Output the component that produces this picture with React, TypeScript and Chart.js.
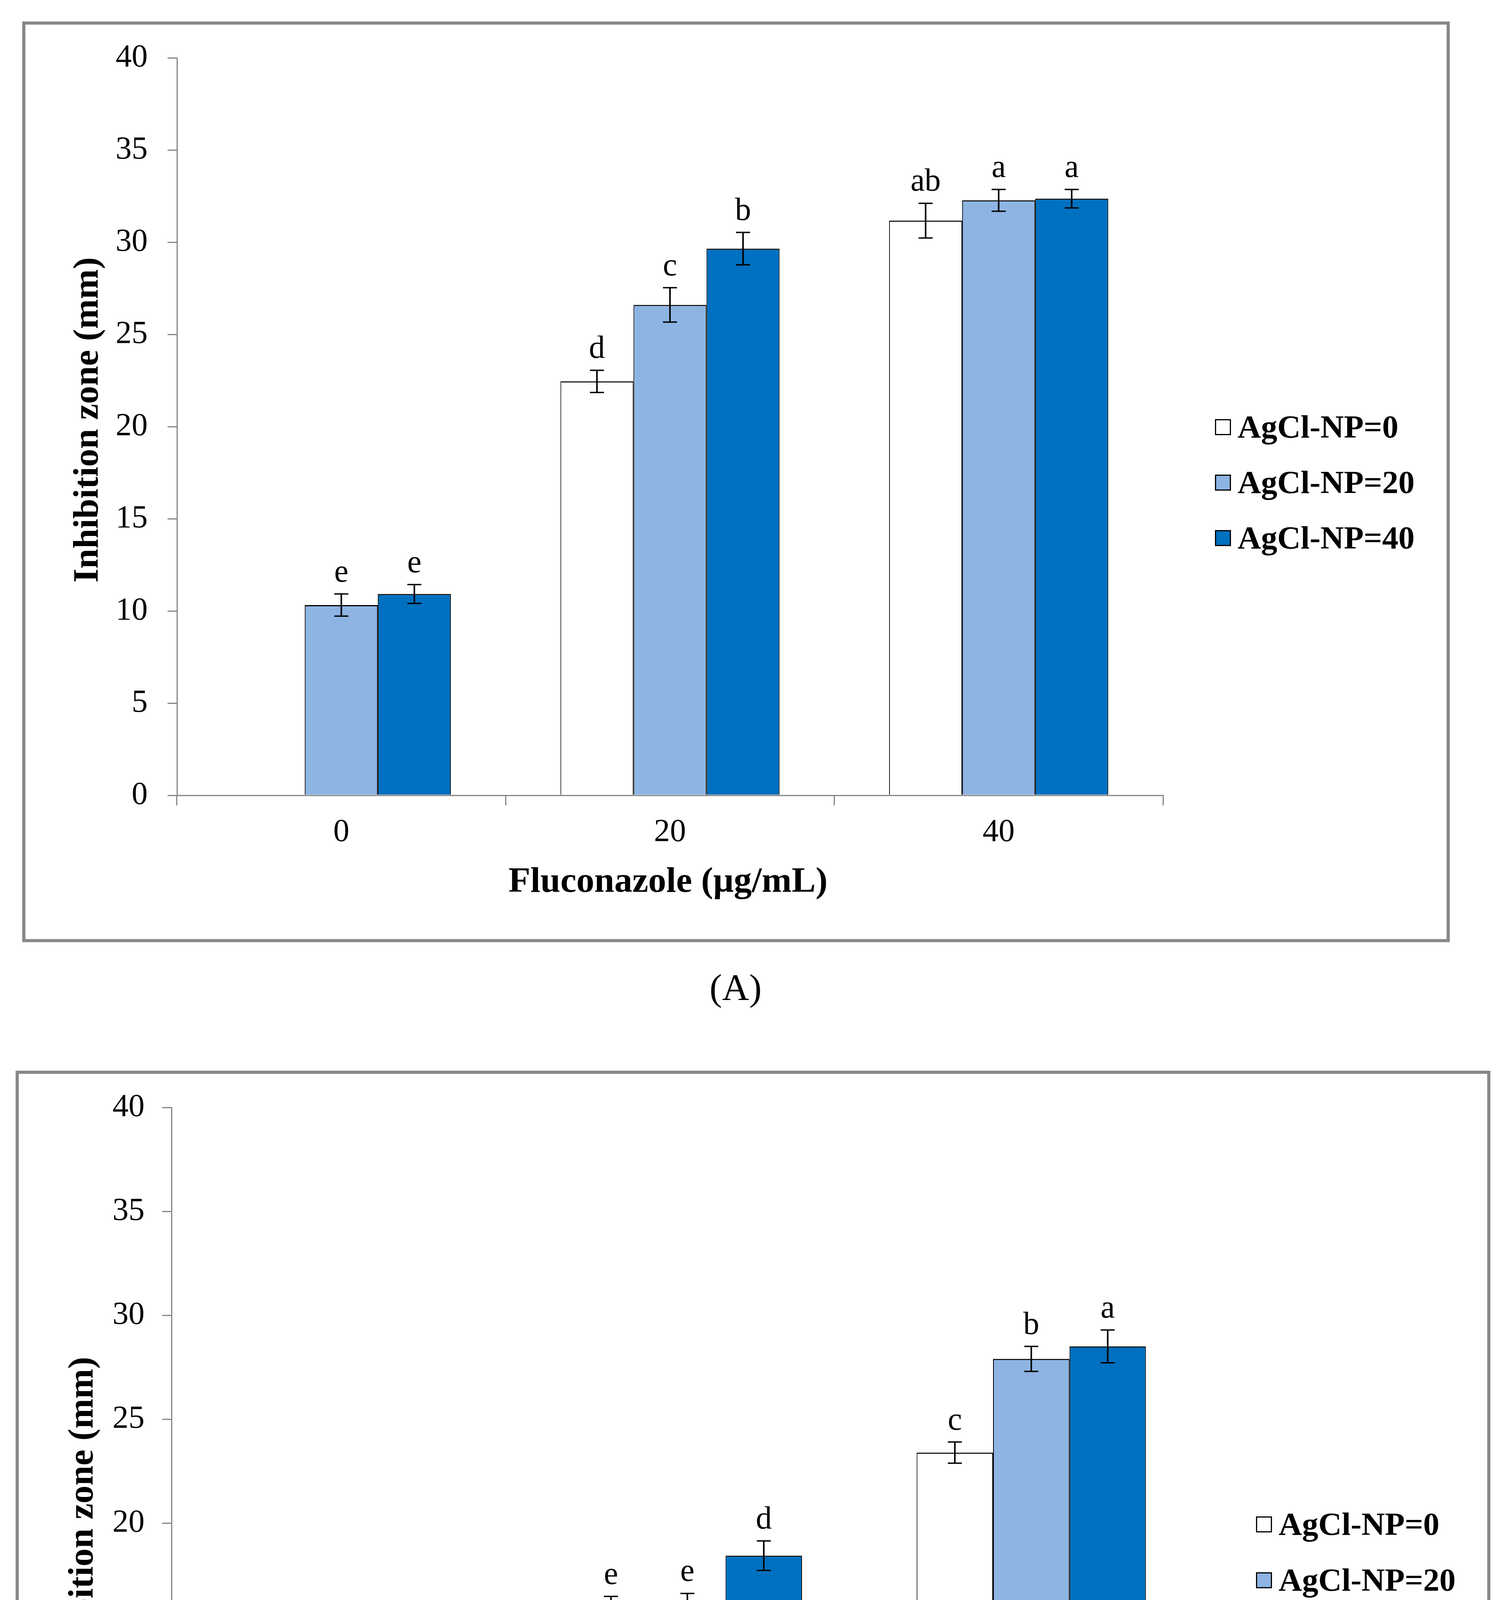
import React, { useEffect, useRef } from "react";
import { Chart, registerables } from "chart.js";

Chart.register(...registerables);

// ---------- data ----------
const categories = ["0", "20", "40"];
const seriesNames = ["AgCl-NP=0", "AgCl-NP=20", "AgCl-NP=40"];
const yMin = 0;
const yMax = 40;
const yStep = 5;

// Panel A
const aNP0 = [null, 22.45, 31.17];
const aNP20 = [10.32, 26.6, 32.27];
const aNP40 = [10.92, 29.65, 32.36];
const aErr0 = [null, 0.6, 0.94];
const aErr20 = [0.6, 0.93, 0.59];
const aErr40 = [0.51, 0.88, 0.5];
const aLet0 = ["", "d", "ab"];
const aLet20 = ["e", "c", "a"];
const aLet40 = ["e", "b", "a"];

// Panel B
const bNP0 = [null, 15.57, 23.39];
const bNP20 = [7.82, 16.09, 27.9];
const bNP40 = [9.3, 18.43, 28.5];
const bErr0 = [null, 0.9, 0.51];
const bErr20 = [0.32, 0.52, 0.6];
const bErr40 = [0.41, 0.71, 0.79];
const bLet0 = ["", "e", "c"];
const bLet20 = ["g", "e", "b"];
const bLet40 = ["f", "d", "a"];

const yTitle = "Inhibition zone (mm)";
const xTitle = "Fluconazole (µg/mL)";

// ---------- styles ----------
const barColors = ["#FFFFFF", "#8EB4E3", "#0070C0"];
const axisGray = "#868686";
const frameGray = "#888888";
const SERIF = '"Liberation Serif", "Times New Roman", serif';

type PanelLayout = {
  canvasTop: number;
  canvasHeight: number;
  area: { left: number; right: number; top: number; bottom: number };
  yLabelPad: number;
  xLabelPad: number;
  frame: [number, number, number, number];
  legendSquareX: number;
  legendTextX: number;
  legendBaselines: number[];
  yTitlePos: [number, number];
  xTitlePos: [number, number];
  caption: string;
  captionPos: [number, number];
};

const layoutA: PanelLayout = {
  canvasTop: 0,
  canvasHeight: 2700,
  area: { left: 453, right: 2977, top: 148, bottom: 2036 },
  yLabelPad: 51,
  xLabelPad: 20,
  frame: [61, 59, 3707, 2408],
  legendSquareX: 3110,
  legendTextX: 3168,
  legendBaselines: [1120, 1262, 1404],
  yTitlePos: [250, 1075],
  xTitlePos: [1710, 2283],
  caption: "(A)",
  captionPos: [1883, 2560],
};

const layoutB: PanelLayout = {
  canvasTop: 2700,
  canvasHeight: 2835,
  area: { left: 439, right: 3080, top: 135, bottom: 2263 },
  yLabelPad: 45,
  xLabelPad: 25,
  frame: [44, 45, 3811, 2638],
  legendSquareX: 3215,
  legendTextX: 3273,
  legendBaselines: [1229, 1372, 1514],
  yTitlePos: [237, 1190],
  xTitlePos: [1763, 2516],
  caption: "(B)",
  captionPos: [1883, 2779],
};

const PAGE_W = 3855;

const decorPlugin = {
  id: "decor",
  beforeDraw(chart: any, _args: any, opts: any) {
    const ctx = chart.ctx;
    const L: PanelLayout = opts.layout;
    const [x0, y0, x1, y1] = L.frame;
    ctx.save();
    ctx.strokeStyle = frameGray;
    ctx.lineWidth = 8;
    ctx.strokeRect(x0, y0, x1 - x0, y1 - y0);
    ctx.restore();
  },
  afterDatasetsDraw(chart: any, _args: any, opts: any) {
    const ctx = chart.ctx;
    const yScale = chart.scales.y;
    const errs: (number | null)[][] = opts.errors;
    const lets: string[][] = opts.letters;
    ctx.save();
    chart.data.datasets.forEach((ds: any, i: number) => {
      const meta = chart.getDatasetMeta(i);
      meta.data.forEach((el: any, j: number) => {
        const v = ds.data[j];
        const e = errs[i][j];
        if (v == null || e == null) return;
        const x = el.x;
        const yt = yScale.getPixelForValue(v + e);
        const yb = yScale.getPixelForValue(v - e);
        ctx.strokeStyle = "#000";
        ctx.lineWidth = 4;
        ctx.beginPath();
        ctx.moveTo(x, yt);
        ctx.lineTo(x, yb);
        ctx.stroke();
        ctx.lineWidth = 3.5;
        ctx.beginPath();
        ctx.moveTo(x - 18, yt);
        ctx.lineTo(x + 18, yt);
        ctx.moveTo(x - 18, yb);
        ctx.lineTo(x + 18, yb);
        ctx.stroke();
        const t = lets[i][j];
        if (t) {
          ctx.fillStyle = "#000";
          ctx.font = `82px ${SERIF}`;
          ctx.textAlign = "center";
          ctx.textBaseline = "alphabetic";
          ctx.fillText(t, x, yt - 32);
        }
      });
    });
    ctx.restore();
  },
  afterDraw(chart: any, _args: any, opts: any) {
    const ctx = chart.ctx;
    const L: PanelLayout = opts.layout;
    ctx.save();
    // legend
    chart.data.datasets.forEach((ds: any, i: number) => {
      const base = L.legendBaselines[i];
      const sq = 41;
      const top = base - 47;
      ctx.fillStyle = ds.backgroundColor;
      ctx.fillRect(L.legendSquareX, top, sq, sq);
      ctx.strokeStyle = "#000";
      ctx.lineWidth = 3;
      ctx.strokeRect(L.legendSquareX + 1.5, top + 1.5, sq - 3, sq - 3);
      ctx.fillStyle = "#000";
      ctx.font = `bold 83px ${SERIF}`;
      ctx.textAlign = "left";
      ctx.textBaseline = "alphabetic";
      ctx.fillText(ds.label, L.legendTextX, base);
    });
    // axis titles
    ctx.fillStyle = "#000";
    ctx.font = `bold 92px ${SERIF}`;
    ctx.textAlign = "center";
    ctx.textBaseline = "alphabetic";
    ctx.fillText(xTitle, L.xTitlePos[0], L.xTitlePos[1]);
    ctx.save();
    ctx.translate(L.yTitlePos[0], L.yTitlePos[1]);
    ctx.rotate(-Math.PI / 2);
    ctx.fillText(yTitle, 0, 0);
    ctx.restore();
    // caption
    ctx.font = `96px ${SERIF}`;
    ctx.fillText(L.caption, L.captionPos[0], L.captionPos[1]);
    ctx.restore();
  },
};

function Panel(props: {
  layout: PanelLayout;
  values: (number | null)[][];
  errors: (number | null)[][];
  letters: string[][];
}) {
  const ref = useRef<HTMLCanvasElement | null>(null);
  const { layout: L, values, errors, letters } = props;

  useEffect(() => {
    const canvas = ref.current;
    if (!canvas) return;
    // scale boxes wide enough that Chart.js does not clip the tick labels
    const yBox = L.area.left - 275;
    const xBox = 165;
    const chart = new Chart(canvas, {
      type: "bar",
      data: {
        labels: categories,
        datasets: seriesNames.map((name, i) => ({
          label: name,
          data: values[i] as any,
          backgroundColor: barColors[i],
          borderColor: "#000000",
          borderWidth: { top: 3, left: 2, right: 2, bottom: 0 } as any,
          borderSkipped: "start" as any,
          barPercentage: 1,
          categoryPercentage: 3 / 4.5,
        })),
      },
      options: {
        animation: false,
        responsive: false,
        maintainAspectRatio: false,
        devicePixelRatio: 1,
        events: [],
        layout: {
          padding: {
            left: L.area.left - yBox,
            right: PAGE_W - L.area.right,
            top: L.area.top,
            bottom: L.canvasHeight - L.area.bottom - xBox,
          },
        },
        plugins: {
          legend: { display: false },
          title: { display: false },
          tooltip: { enabled: false },
          decor: { layout: L, errors, letters } as any,
        } as any,
        scales: {
          x: {
            type: "category",
            offset: true,
            grid: {
              offset: true,
              drawOnChartArea: false,
              drawTicks: true,
              tickLength: 26,
              color: axisGray,
              lineWidth: 3,
            },
            border: { display: true, color: axisGray, width: 3 },
            ticks: {
              color: "#000",
              font: { family: SERIF, size: 82 },
              padding: L.xLabelPad,
              maxRotation: 0,
              autoSkip: false,
            },
            afterFit: (s: any) => {
              s.height = xBox;
            },
          },
          y: {
            type: "linear",
            min: yMin,
            max: yMax,
            grid: {
              drawOnChartArea: false,
              drawTicks: true,
              tickLength: 24,
              color: axisGray,
              lineWidth: 3,
            },
            border: { display: true, color: axisGray, width: 3 },
            ticks: {
              stepSize: yStep,
              color: "#000",
              font: { family: SERIF, size: 82 },
              padding: L.yLabelPad,
            },
            afterFit: (s: any) => {
              s.width = yBox;
            },
          },
        },
      } as any,
      plugins: [decorPlugin as any],
    });
    return () => chart.destroy();
  }, []);

  return (
    <canvas
      ref={ref}
      width={PAGE_W}
      height={L.canvasHeight}
      style={{
        position: "absolute",
        left: 0,
        top: L.canvasTop,
        width: PAGE_W,
        height: L.canvasHeight,
        display: "block",
      }}
    />
  );
}

export default function App() {
  return (
    <div
      style={{
        position: "absolute",
        left: 0,
        top: 0,
        width: PAGE_W,
        height: 5535,
        overflow: "hidden",
        background: "#ffffff",
      }}
    >
      <Panel
        layout={layoutA}
        values={[aNP0, aNP20, aNP40]}
        errors={[aErr0, aErr20, aErr40]}
        letters={[aLet0, aLet20, aLet40]}
      />
      <Panel
        layout={layoutB}
        values={[bNP0, bNP20, bNP40]}
        errors={[bErr0, bErr20, bErr40]}
        letters={[bLet0, bLet20, bLet40]}
      />
    </div>
  );
}
